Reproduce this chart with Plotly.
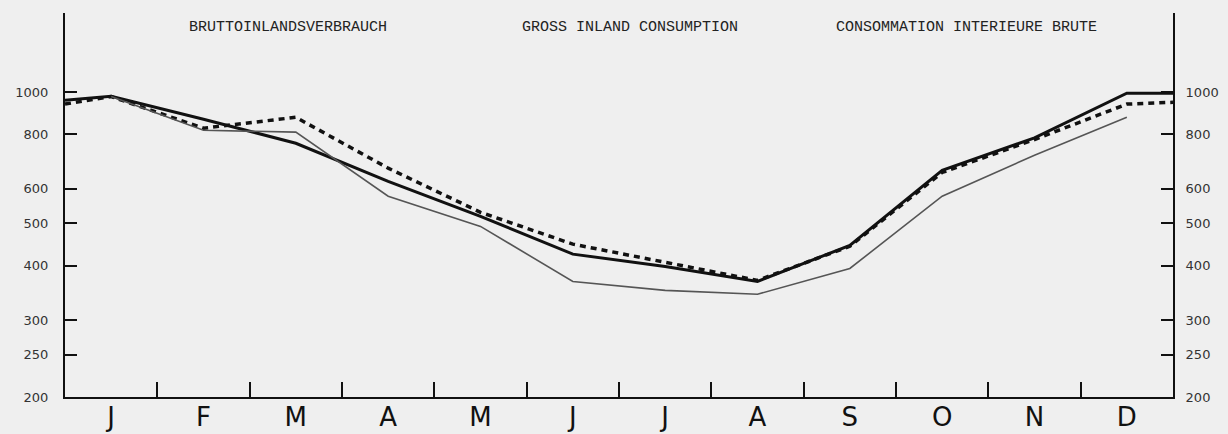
import math
import plotly.graph_objects as go

# ---- data ----
months = ["J", "F", "M", "A", "M", "J", "J", "A", "S", "O", "N", "D"]
thick_line = [978, 866, 763, 624, 519, 425, 398, 368, 445, 661, 785, 994]
thick_edges = [957, 994]          # value at start of January / end of December
dashed_line = [976, 826, 875, 669, 530, 448, 407, 370, 443, 654, 778, 938]
dashed_edges = [938, 947]
thin_line = [976, 817, 809, 577, 492, 368, 351, 344, 394, 577, 716, 875]
y_tick_values = [200, 250, 300, 400, 500, 600, 800, 1000]
titles = ["BRUTTOINLANDSVERBRAUCH", "GROSS INLAND CONSUMPTION",
          "CONSOMMATION INTERIEURE BRUTE"]

# ---- positions on the month axis ----
centers = [i + 0.5 for i in range(len(months))]
x_ext = [0] + centers + [len(months)]
thick_y = [thick_edges[0]] + thick_line + [thick_edges[1]]
dashed_y = [dashed_edges[0]] + dashed_line + [dashed_edges[1]]

BG = "#efefef"
INK = "#111111"

fig = go.Figure()
fig.add_trace(go.Scatter(x=x_ext, y=thick_y, mode="lines",
                         line=dict(color=INK, width=3), hoverinfo="skip",
                         showlegend=False))
fig.add_trace(go.Scatter(x=x_ext, y=dashed_y, mode="lines",
                         line=dict(color=INK, width=3.5, dash="6px,5px"),
                         hoverinfo="skip", showlegend=False))
fig.add_trace(go.Scatter(x=centers, y=thin_line, mode="lines",
                         line=dict(color="#555555", width=1.6),
                         hoverinfo="skip", showlegend=False,
                         xaxis="x2", yaxis="y2"))

yr = [math.log10(200), 3.181]
tick_text = [str(v) for v in y_tick_values]

fig.update_layout(
    width=1228, height=434,
    margin=dict(l=65, r=55, t=13, b=37, pad=0),
    paper_bgcolor=BG, plot_bgcolor=BG,
    xaxis=dict(range=[0, 12], showgrid=False, zeroline=False,
               showline=True, linecolor=INK, linewidth=2, automargin=False,
               ticks="inside", tickvals=list(range(1, 12)), ticklen=15,
               tickwidth=2, tickcolor=INK, showticklabels=False),
    xaxis2=dict(range=[0, 12], overlaying="x", side="bottom", anchor="y2",
                showgrid=False, zeroline=False, showline=False,
                automargin=False,
                tickvals=centers, ticktext=months, ticks="",
                ticklabelstandoff=2,
                tickfont=dict(family="DejaVu Sans", size=26, color=INK)),
    yaxis=dict(type="log", range=yr, showgrid=False, zeroline=False,
               showline=True, linecolor=INK, linewidth=2, automargin=False,
               ticks="inside", ticklen=12, tickwidth=1.5, tickcolor=INK,
               tickvals=y_tick_values, ticktext=tick_text,
               ticklabelstandoff=12,
               tickfont=dict(family="DejaVu Sans", size=13, color="#333333")),
    yaxis2=dict(type="log", range=yr, overlaying="y", side="right",
                anchor="x2", showgrid=False, zeroline=False,
                showline=True, linecolor=INK, linewidth=2, automargin=False,
                ticks="inside", ticklen=12, tickwidth=1.5, tickcolor=INK,
                tickvals=y_tick_values, ticktext=tick_text,
                ticklabelstandoff=8,
                tickfont=dict(family="DejaVu Sans", size=13, color="#333333")),
)

title_x = [2.415, 6.12, 9.76]
for t, xx in zip(titles, title_x):
    fig.add_annotation(text=t, x=xx, y=0.961, xref="x", yref="paper",
                       showarrow=False, xanchor="center", yanchor="middle",
                       font=dict(family="Liberation Mono", size=15, color="#222222"))

fig.write_html("out.html", config={"displayModeBar": False},
               post_script="document.body.style.margin='0';")
